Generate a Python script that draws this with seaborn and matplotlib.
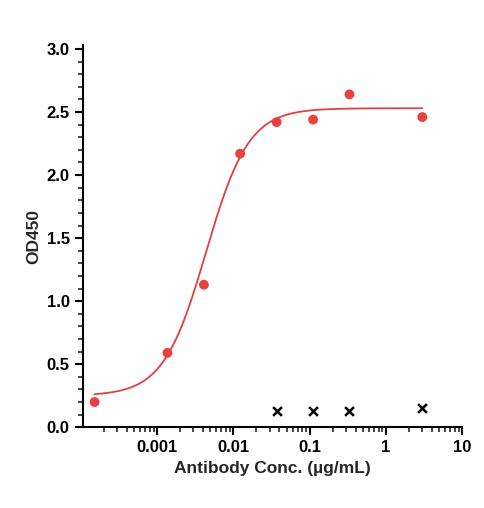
import numpy as np
import matplotlib
matplotlib.use("Agg")
import matplotlib.pyplot as plt
import seaborn as sns
from matplotlib.ticker import LogLocator, MultipleLocator, FixedLocator, FixedFormatter

sns.set_style("ticks")
plt.rcParams['font.family'] = ['Liberation Sans', 'DejaVu Sans']

conc = [0.000152, 0.00137, 0.00412, 0.0123, 0.037, 0.111, 0.333, 3.0]
od = [0.20, 0.59, 1.13, 2.17, 2.42, 2.44, 2.64, 2.46]
ctrl_conc = [0.037, 0.111, 0.333, 3.0]
ctrl_od = [0.13, 0.13, 0.13, 0.15]
# 4PL fit parameters
bottom, top, ec50, hill = 0.25, 2.53, 0.0044, 1.55

fig = plt.figure(figsize=(4.85, 5.08), dpi=100)
ax = fig.add_axes([0.171, 0.159, 0.782, 0.752])
xs = np.logspace(np.log10(conc[0]), np.log10(conc[-1]), 300)
ys = bottom + (top - bottom) / (1 + (ec50 / xs) ** hill)
sns.lineplot(x=xs, y=ys, ax=ax, color='#e0403f', lw=1.3)
sns.scatterplot(x=conc, y=od, ax=ax, color='#e8413f', s=50, edgecolor='none', zorder=3)
sns.scatterplot(x=ctrl_conc, y=ctrl_od, ax=ax, color='black', marker='x', s=40, linewidth=1.8, zorder=3)
ax.set_xscale('log')
ax.set_xlim(0.000107, 10)
ax.set_ylim(0, 3.03)
ax.xaxis.set_major_locator(FixedLocator([0.001, 0.01, 0.1, 1, 10]))
ax.xaxis.set_major_formatter(FixedFormatter(['0.001', '0.01', '0.1', '1', '10']))
ax.xaxis.set_minor_locator(LogLocator(base=10, subs=np.arange(2, 10), numticks=20))
ax.yaxis.set_major_locator(MultipleLocator(0.5))
ax.yaxis.set_minor_locator(MultipleLocator(0.1))
ax.yaxis.set_major_formatter(matplotlib.ticker.FormatStrFormatter('%.1f'))
for sp in ['top', 'right']:
    ax.spines[sp].set_visible(False)
for sp in ['left', 'bottom']:
    ax.spines[sp].set_linewidth(1.5)
    ax.spines[sp].set_color('black')
ax.tick_params(which='major', length=6, width=1.5, labelsize=12, colors='black')
ax.tick_params(which='minor', length=3.5, width=1.2)
for lab in ax.get_xticklabels() + ax.get_yticklabels():
    lab.set_fontweight('bold')
ax.set_xlabel('Antibody Conc. (µg/mL)', fontsize=12.5, fontweight='bold')
ax.set_ylabel('OD450', fontsize=12.5, fontweight='bold')
fig.savefig('out.png', dpi=100)
